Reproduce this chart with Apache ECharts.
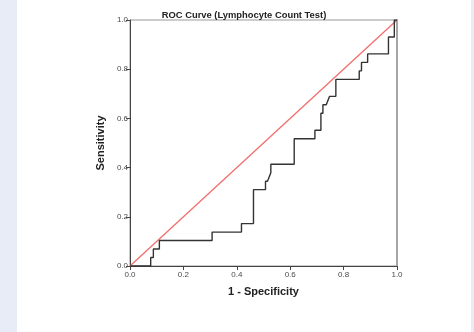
<!DOCTYPE html>
<html>
<head>
<meta charset="utf-8">
<script src="https://cdn.jsdelivr.net/npm/echarts@6/dist/echarts.min.js"></script>
<style>
  html, body { margin: 0; padding: 0; }
  #chart {
    width: 474px;
    height: 332px;
    background: linear-gradient(to right, #e8ecf6 17px, #ffffff 17px, #ffffff 471px, #e8ecf6 471px);
  }
</style>
</head>
<body>
<div id="chart"></div>
<script>
// ROC coordinates (1 - specificity, sensitivity)
const fpr = [0, 0.0775, 0.0775, 0.0875, 0.0875, 0.11, 0.11, 0.3075, 0.3075, 0.4175, 0.4175,
  0.4625, 0.4625, 0.5075, 0.5075, 0.5150, 0.5275, 0.5275, 0.615, 0.615, 0.6925, 0.6925,
  0.715, 0.715, 0.7225, 0.7225, 0.735, 0.7475, 0.771, 0.771, 0.8585, 0.8585, 0.867, 0.867,
  0.89, 0.89, 0.968, 0.968, 0.99, 0.99, 1]
const tpr = [0, 0, 0.0345, 0.0345, 0.069, 0.069, 0.1034, 0.1034, 0.1379, 0.1379, 0.1724,
  0.1724, 0.3103, 0.3103, 0.3448, 0.3448, 0.3793, 0.4138, 0.4138, 0.5172, 0.5172, 0.5517,
  0.5517, 0.6207, 0.6207, 0.6552, 0.6552, 0.6897, 0.6897, 0.7586, 0.7586, 0.7931, 0.7931, 0.8276,
  0.8276, 0.8621, 0.8621, 0.931, 0.931, 1, 1]
const refX = [0, 1]
const refY = [0, 1]

const font = '"Liberation Sans", Arial, sans-serif'
const chart = echarts.init(document.getElementById('chart'))

const option = {
  animation: false,
  title: {
    text: 'ROC Curve (Lymphocyte Count Test)',
    left: 239,
    top: 6,
    textAlign: 'center',
    textStyle: { fontFamily: font, fontSize: 9.4, fontWeight: 'bold', color: '#222' }
  },
  grid: {
    left: 130,
    top: 20,
    width: 267,
    height: 246,
    show: true,
    borderColor: '#999',
    borderWidth: 1
  },
  xAxis: [{
    type: 'value',
    min: 0,
    max: 1,
    interval: 0.2,
    name: '1 - Specificity',
    nameLocation: 'middle',
    nameGap: 20,
    nameTextStyle: { fontFamily: font, fontSize: 11, fontWeight: 'bold', color: '#222' },
    axisLine: { show: true, lineStyle: { color: '#444', width: 1 } },
    axisTick: { show: true, length: 4, lineStyle: { color: '#444' } },
    axisLabel: {
      fontFamily: font, fontSize: 8, color: '#4a4a4a', margin: 5,
      formatter: v => v.toFixed(1)
    },
    splitLine: { show: false }
  }],
  yAxis: [{
    type: 'value',
    min: 0,
    max: 1,
    interval: 0.2,
    name: 'Sensitivity',
    nameLocation: 'middle',
    nameGap: 22,
    nameTextStyle: { fontFamily: font, fontSize: 11, fontWeight: 'bold', color: '#222' },
    axisLine: { show: true, lineStyle: { color: '#444', width: 1 } },
    axisTick: { show: true, length: 4, lineStyle: { color: '#444' } },
    axisLabel: {
      fontFamily: font, fontSize: 8, color: '#4a4a4a', margin: 2,
      formatter: v => v.toFixed(1)
    },
    splitLine: { show: false }
  }, {
    type: 'value',
    position: 'right',
    min: 0,
    max: 1,
    axisLine: { show: true, lineStyle: { color: '#a6a6a6', width: 2 } },
    axisTick: { show: false },
    axisLabel: { show: false },
    splitLine: { show: false }
  }],
  series: [{
    type: 'line',
    data: refX.map((x, i) => [x, refY[i]]),
    symbol: 'none',
    lineStyle: { color: '#f26d6d', width: 1.3 },
    z: 2
  }, {
    type: 'line',
    data: fpr.map((x, i) => [x, tpr[i]]),
    symbol: 'none',
    lineStyle: { color: '#333', width: 1.4 },
    z: 3
  }]
}

chart.setOption(option)
</script>
</body>
</html>
